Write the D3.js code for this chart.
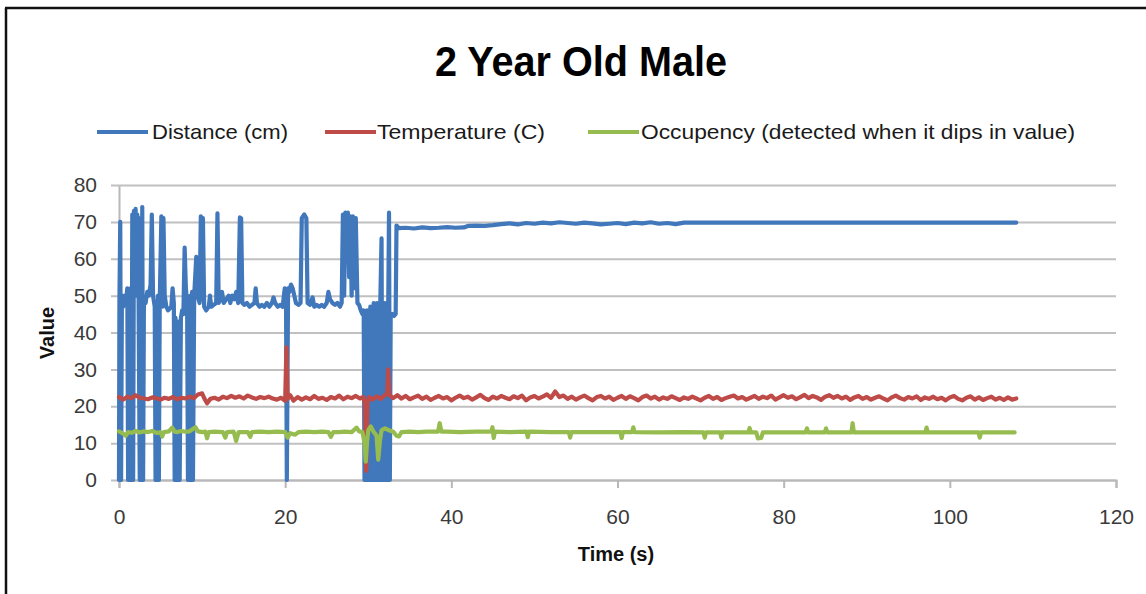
<!DOCTYPE html>
<html>
<head>
<meta charset="utf-8">
<script src="https://cdn.jsdelivr.net/npm/d3@7"></script>
<style>
  html, body { margin: 0; padding: 0; background: #fff; }
  svg { display: block; }
</style>
</head>
<body>
<svg id="chart" width="1146" height="594"></svg>
<script>
const title = "2 Year Old Male";
const xTitle = "Time (s)";
const yTitle = "Value";
const xTicks = [0, 20, 40, 60, 80, 100, 120];
const yTicks = [0, 10, 20, 30, 40, 50, 60, 70, 80];
const seriesNames = ["Distance (cm)", "Temperature (C)", "Occupency (detected when it dips in value)"];

// Distance (cm): [time, value]
const distance = [
  [0,0],[0.05,48],[0.15,70],[0.25,0],[0.35,50],[0.5,47],[0.7,50],[0.85,48],[1.0,52],[1.1,0],[1.2,50],[1.3,0],
  [1.4,52],[1.5,0],[1.6,72],[1.7,0],[1.8,73],[1.9,55],[2.0,73.5],[2.1,50],[2.2,72],[2.35,52],[2.5,0],[2.6,71],
  [2.7,0],[2.8,74],[2.9,0],[3.0,49],[3.2,48],[3.4,51],[3.6,50],[3.8,53],[3.95,72],[4.1,50],[4.3,47],[4.4,0],
  [4.5,48],[4.6,0],[4.7,50],[4.8,0],[4.9,48],[5.1,71.5],[5.25,47],[5.35,71],[5.5,50],[5.7,47],[5.9,46],[6.1,46.5],
  [6.3,47],[6.45,52],[6.6,48],[6.7,0],[6.8,44],[6.9,0],[7.0,43],[7.1,0],[7.2,42],[7.3,0],[7.45,44],[7.6,46],
  [7.75,45],[7.9,63],[8.05,52],[8.2,48],[8.3,0],[8.4,49],[8.5,0],[8.6,50],[8.7,0],[8.8,51],[8.9,0],[9.05,50],
  [9.3,60.5],[9.45,50],[9.7,48],[9.85,71.5],
  [10.0,49],[10.1,71],[10.25,47],[10.5,46],[10.8,47],[10.95,50],[11.1,47],[11.4,47.5],[11.7,48],[11.85,72.3],
  [12.0,48],[12.2,49],[12.4,51],[12.6,48],[12.9,49],[13.2,50],[13.4,48],[13.6,50],[13.9,49],[14.1,51],[14.35,48],
  [14.55,71.2],[14.7,71],[14.85,48],[15.1,47.5],[15.4,48],[15.7,47],[16.0,47.5],[16.3,48],[16.45,52],[16.6,48],
  [16.9,47],[17.2,47.5],[17.5,47],[17.8,48],[18.1,47],[18.4,48],[18.6,49.5],[18.8,48],[19.1,47],[19.4,47.5],
  [19.7,47],[19.95,52],[20.1,51.5],[20.2,0],[20.35,52],[20.5,51],[20.7,53],[20.9,52],[21.1,50],[21.3,48],
  [21.6,47.5],[21.85,48],[22.0,71],[22.3,72],[22.55,71],[22.7,48],[23.0,47.5],[23.3,49.5],[23.5,47],[23.8,47.5],
  [24.1,47],[24.4,47.5],[24.7,47],[25.0,48],[25.2,51],[25.4,49],[25.7,48],[26.0,47.5],[26.3,48],[26.6,47],
  [26.8,48],[26.95,72],[27.1,50],[27.25,72.5],[27.4,60],[27.55,72.5],[27.7,55],[27.85,71.5],[28.0,50],
  [28.15,71.5],[28.35,52],[28.5,71],[28.7,48],[28.9,47.5],[29.1,46],[29.3,45],[29.45,46],
  [29.55,0],[29.65,44],[29.75,0],[29.85,46],[29.95,0],[30.05,45],[30.15,0],[30.25,47],[30.35,0],[30.45,46],
  [30.55,0],[30.65,48],[30.75,0],[30.85,47],[30.95,0],[31.05,48],[31.15,0],[31.25,47],[31.35,0],[31.45,48],
  [31.6,65.5],[31.7,0],[31.8,47],[31.9,0],[32.0,48],[32.1,0],[32.2,47],[32.3,0],[32.4,46],[32.5,72.5],[32.6,0],
  [32.7,44.5],[32.9,45],[33.1,44.5],[33.3,45],[33.4,69],[33.7,68.3],[34.5,68.4],[35.5,68.2],[36.5,68.5],[37.5,68.3],
  [38.5,68.4],[39.5,68.6],[40.5,68.4],[41.5,68.5],[42,68.9],[43,69],[44,68.9],[45,69.1],[46,69.4],[47,69.6],
  [48,69.3],[49,69.7],[50,69.5],[51,69.8],[52,69.6],[53,69.9],[54,69.7],[55,69.5],[56,69.8],[57,69.6],[58,69.3],
  [59,69.5],[60,69.7],[61,69.4],[62,69.8],[63,69.6],[64,69.9],[65,69.5],[66,69.7],[67,69.4],[68,69.8],[70,69.8],
  [75,69.8],[80,69.8],[85,69.8],[90,69.8],[95,69.8],[100,69.8],[105,69.8],[108,69.8]
];

// Temperature (C): [time, value]
const temperature = [
  [0,22.5],[0.5,21.8],[1,22.6],[1.5,22.2],[2,23],[2.5,22.3],[3,22.1],[3.5,21.9],[4,22.4],[4.5,22.2],[5,21.8],
  [5.5,22.3],[6,22.0],[6.5,22.5],[7,21.9],[7.5,22.3],[8,22.1],[8.5,22.6],[9,22.2],[9.5,23.2],[10,23.5],[10.3,22],
  [10.6,20.8],[11,22.0],[11.5,22.3],[12,21.8],[12.5,22.6],[13,22.2],[13.5,22.8],[14,22.3],[14.5,22.7],[15,22.1],
  [15.5,22.9],[16,22.4],[16.5,22.0],[17,22.5],[17.5,22.2],[18,22.6],[18.5,22.1],[19,21.8],[19.5,22.3],[20.0,21.5],
  [20.15,36],[20.3,22],[20.6,23],[21,21.5],[21.5,22.5],[22,21.8],[22.5,22.4],[23,21.9],[23.5,22.8],[24,22],
  [24.5,22.3],[25,21.7],[25.5,22.5],[26,22.1],[26.5,22.9],[27,21.9],[27.5,22.6],[28,22.2],[28.5,22.8],[29,22.1],
  [29.4,22.5],[29.6,21],[29.75,2.5],[29.9,21],[30.1,22.5],[30.5,21.8],[31,22.7],[31.5,22],[32,23],[32.3,23.5],
  [32.4,30],[32.55,23],[33,22.2],[33.5,23],[34,22.1],[34.5,22.8],[35,21.9],[35.5,22.4],[36,22.9],[36.5,22.0],
  [37,22.6],[37.5,21.7],[38,22.3],[38.5,22.8],[39,22.1],[39.5,22.5],[40,21.6],[40.5,22.3],[41,22.9],[41.5,22.2],
  [42,22.6],[42.5,21.8],[43,22.4],[43.5,23.1],[44,22.2],[44.5,21.7],[45,22.6],[45.5,22.1],[46,22.8],[46.5,22.3],
  [47,21.9],[47.5,22.7],[48,22.2],[48.5,22.9],[49,21.6],[49.5,22.4],[50,22.8],[50.5,22.1],[51,22.6],[51.5,23.2],
  [52,22.3],[52.5,24.0],[53,22.5],[53.5,22.9],[54,22.0],[54.5,22.6],[55,21.8],[55.5,22.4],[56,22.9],[56.5,22.2],
  [57,21.6],[57.5,22.5],[58,22.8],[58.5,22.1],[59,22.6],[59.5,21.7],[60,22.3],[60.5,22.8],[61,22.0],[61.5,22.7],
  [62,22.2],[62.5,21.6],[63,22.5],[63.5,22.9],[64,22.1],[64.5,22.6],[65,21.8],[65.5,22.4],[66,22.0],[66.5,22.7],
  [67,22.2],[67.5,21.7],[68,22.4],[68.5,22.0],[69,22.6],[69.5,22.1],[70,21.6],[70.5,22.3],[71,22.8],[71.5,22.0],
  [72,22.5],[72.5,21.7],[73,22.2],[73.5,22.6],[74,22.9],[74.5,22.1],[75,22.5],[75.5,21.8],[76,22.3],[76.5,22.8],
  [77,22.0],[77.5,22.6],[78,22.2],[78.5,22.9],[79,21.8],[79.5,22.4],[80,23.0],[80.5,22.3],[81,22.7],[81.5,21.9],
  [82,22.5],[82.5,23.1],[83,22.2],[83.5,22.8],[84,22.4],[84.5,21.7],[85,22.6],[85.5,23.0],[86,22.3],[86.5,22.8],
  [87,22.1],[87.5,22.6],[88,21.7],[88.5,22.4],[89,22.8],[89.5,22.0],[90,22.5],[90.5,21.8],[91,22.3],[91.5,22.7],
  [92,22.1],[92.5,21.6],[93,22.4],[93.5,22.9],[94,22.2],[94.5,21.8],[95,22.5],[95.5,22.1],[96,22.7],[96.5,21.7],
  [97,22.4],[97.5,22.0],[98,22.6],[98.5,21.9],[99,22.3],[99.5,21.6],[100,22.4],[100.5,22.8],[101,22.0],[101.5,21.6],
  [102,22.3],[102.5,22.7],[103,21.8],[103.5,22.4],[104,21.7],[104.5,22.2],[105,22.6],[105.5,21.8],[106,22.3],
  [106.5,21.7],[107,22.4],[107.5,21.8],[108,22.1]
];

// Occupency: [time, value]
const occupancy = [
  [0,13.2],[0.5,12.6],[0.8,12.0],[1.1,13.0],[1.5,12.8],[2,13.3],[2.5,12.9],[3,13.2],[3.5,13.0],[4,13.3],[4.5,12.8],
  [5.0,12.9],[5.2,11.8],[5.4,13],[6,13.2],[6.4,14.2],[6.7,13.1],[7,13.0],[7.5,13.3],[8,13.1],[8.5,13.2],[9.2,14.3],
  [9.5,13.2],[10,13.0],[10.4,13.1],[10.6,11.3],[10.8,13],[11.5,13.1],[12.5,13.0],[12.8,11.5],[13,13],[13.8,13.1],
  [14.1,10.6],[14.4,13],[15.5,13],[15.8,11.7],[16,13],[17,13.1],[18,13],[19,13.1],[20,13.0],[20.3,11.5],[20.6,12.7],
  [21.2,12.3],[21.6,13],[22.5,13.1],[23.5,13],[24.5,13.1],[25.2,13],[25.5,11.7],[25.8,13],[26.5,13],[27.2,13.1],
  [28,13.0],[28.6,14.2],[28.9,13.2],[29.3,13],[29.55,10],[29.7,5],[29.85,10],[30.0,13.5],[30.3,14.5],[30.6,13.2],
  [31.0,12],[31.2,5.5],[31.4,10.5],[31.6,13.5],[32,14],[32.5,13.5],[33,13.1],[33.4,12],[33.7,11.8],[34,13],
  [35,13.1],[36,13],[37,13.1],[38.4,13.1],[38.6,15.4],[38.8,13.1],[39.5,13.1],[41,13.0],[43,13.1],[44.8,13.1],
  [44.95,14.3],[45.1,11.4],[45.25,13.1],[47,13.0],[49.05,13.1],[49.2,11.6],[49.35,13.1],[52,13.0],[54.15,13.0],
  [54.3,11.5],[54.45,13.0],[57,13.0],[60.35,13.0],[60.5,11.4],[60.65,13.0],[61.75,13.0],[61.9,14.3],[62.05,13.0],
  [65,12.9],[68,13.0],[70.35,12.9],[70.5,11.5],[70.65,12.9],[72.35,12.9],[72.5,11.5],[72.65,12.9],[75.75,12.9],
  [75.9,14.1],[76.05,12.9],[76.7,12.9],[76.9,11.3],[77.3,11.4],[77.5,12.9],[80,12.9],[82.65,12.9],[82.8,14.0],
  [82.95,12.9],[84.95,12.9],[85.1,14.0],[85.25,12.9],[88.15,12.9],[88.3,15.4],[88.45,12.9],[92,12.9],[97.05,12.9],
  [97.2,14.2],[97.35,12.9],[100,12.9],[103.45,12.9],[103.6,11.5],[103.75,12.9],[107.8,12.9]
];

const colors = ["#4177bb", "#be4b48", "#96bc4f"];
const textFont = "'Liberation Sans Narrow','Liberation Sans',Arial,sans-serif";
const tickFont = "'Liberation Sans',Arial,sans-serif";

const svg = d3.select("#chart");
svg.append("rect").attr("width", 1146).attr("height", 594).attr("fill", "#fff");

// outer frame (top and left edges visible)
svg.append("line").attr("x1", 5).attr("x2", 1146).attr("y1", 8).attr("y2", 8)
  .attr("stroke", "#111").attr("stroke-width", 2.5);
svg.append("line").attr("x1", 6).attr("x2", 6).attr("y1", 8).attr("y2", 594)
  .attr("stroke", "#111").attr("stroke-width", 2.5);

const x = d3.scaleLinear().domain([0, 120]).range([119, 1116]);
const y = d3.scaleLinear().domain([0, 80]).range([480, 185]);

// title
svg.append("text").attr("x", 581).attr("y", 76).attr("text-anchor", "middle")
  .attr("font-family", textFont).attr("font-weight", "bold").attr("font-size", 43)
  .attr("textLength", 292).attr("lengthAdjust", "spacingAndGlyphs")
  .attr("fill", "#000").text(title);

// legend
const legendItems = [
  { name: seriesNames[0], color: colors[0], lx: 97, tx: 152, tw: 136 },
  { name: seriesNames[1], color: colors[1], lx: 325, tx: 377, tw: 168 },
  { name: seriesNames[2], color: colors[2], lx: 588, tx: 641, tw: 434 }
];
const lg = svg.append("g");
legendItems.forEach(d => {
  lg.append("line").attr("x1", d.lx).attr("x2", d.lx + 51).attr("y1", 132).attr("y2", 132)
    .attr("stroke", d.color).attr("stroke-width", 4.2);
  lg.append("text").attr("x", d.tx).attr("y", 139)
    .attr("font-family", textFont).attr("font-size", 21).attr("fill", "#1a1a1a")
    .attr("textLength", d.tw).attr("lengthAdjust", "spacingAndGlyphs").text(d.name);
});

// y axis with gridlines
const yAxis = svg.append("g").attr("transform", "translate(119,0)")
  .call(d3.axisLeft(y).tickValues(yTicks).tickSizeInner(-(1116 - 119)).tickSizeOuter(0));
yAxis.select(".domain").attr("stroke", "#b8b8b8").attr("stroke-width", 2);
yAxis.selectAll(".tick line").attr("x1", -8).attr("stroke", "#c0c0c0").attr("stroke-width", 2);
yAxis.selectAll(".tick text").attr("x", -22).attr("font-family", tickFont)
  .attr("font-size", 21).attr("fill", "#3a3a3a");

// x axis
const xAxis = svg.append("g").attr("transform", "translate(0,480)")
  .call(d3.axisBottom(x).tickValues(xTicks).tickSizeInner(8).tickSizeOuter(8));
xAxis.select(".domain").attr("stroke", "#b8b8b8").attr("stroke-width", 2);
xAxis.selectAll(".tick line").attr("stroke", "#b8b8b8").attr("stroke-width", 2);
xAxis.selectAll(".tick text").attr("y", 29).attr("font-family", tickFont)
  .attr("font-size", 21).attr("fill", "#3a3a3a");

// axis titles
svg.append("text").attr("transform", "translate(54,333) rotate(-90)").attr("text-anchor", "middle")
  .attr("font-family", tickFont).attr("font-weight", "bold").attr("font-size", 20)
  .attr("fill", "#111").text(yTitle);
svg.append("text").attr("x", 616).attr("y", 561).attr("text-anchor", "middle")
  .attr("font-family", tickFont).attr("font-weight", "bold").attr("font-size", 20)
  .attr("fill", "#111").text(xTitle);

// lines
const line = d3.line().x(d => x(d[0])).y(d => y(d[1]));
[distance, temperature, occupancy].forEach((data, i) => {
  svg.append("path").datum(data).attr("d", line).attr("fill", "none")
    .attr("stroke", colors[i]).attr("stroke-width", 4.2)
    .attr("stroke-linejoin", "round").attr("stroke-linecap", "round");
});
</script>
</body>
</html>
